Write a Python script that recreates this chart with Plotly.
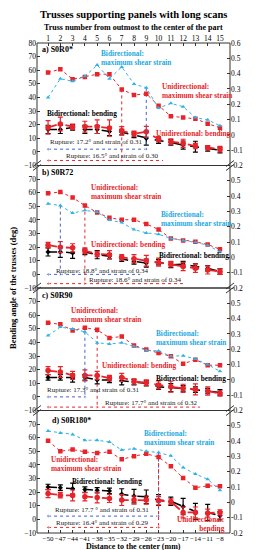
import plotly.graph_objects as go

# ---------------- data ----------------
distance_mm = [-50, -47, -44, -41, -38, -35, -32, -29, -26, -23, -20, -17, -14, -11, -8]
truss_number = list(range(1, 16))
left_tick_vals = [-10, 0, 10, 20, 30, 40, 50, 60, 70, 80]
right_tick_vals = [-0.2, -0.1, 0, 0.1, 0.2, 0.3, 0.4, 0.5, 0.6]
right_tick_text = ["-0.2", "-0.1", "0", "0.1", "0.2", "0.3", "0.4", "0.5", "0.6"]

# a) S0R0*
a_uni_strain = [0.407, 0.429, 0.364, 0.378, 0.396, 0.396, 0.297, 0.261, 0.268, 0.191, 0.122, 0.113, 0.105, 0.073, 0.047]
a_bi_strain = [0.244, 0.367, 0.350, 0.383, 0.456, 0.367, 0.444, 0.333, 0.307, 0.175, 0.206, 0.184, 0.113, 0.098, 0.060]
a_uni_bend = [18.0, 20.5, 18.5, 18.5, 18.5, 17.5, 15.5, 13.3, 14.8, 9.3, 7.5, 6.3, 4.3, 3.0, 2.0]
a_uni_err = [5, 5, 2, 4, 5, 6, 3, 2, 4, 2, 2, 3, 2, 1.5, 2]
a_bi_bend = [16.5, 16.5, 18.0, 16.5, 16.5, 15.0, 14.5, 12.5, 10.0, 8.3, 7.0, 5.0, 3.8, 2.5, 1.3]
a_bi_err = [3, 3, 2, 3, 3, 3, 2, 2, 5, 2, 2, 3, 4, 2, 2]

# b) S0R72
b_uni_strain = [0.418, 0.427, 0.391, 0.338, 0.293, 0.258, 0.246, 0.246, 0.218, 0.182, 0.124, 0.111, 0.102, 0.084, 0.053]
b_bi_strain = [0.351, 0.338, 0.289, 0.307, 0.296, 0.244, 0.227, 0.182, 0.160, 0.151, 0.124, 0.111, 0.098, 0.080, 0.036]
b_uni_bend = [21.5, 20.0, 19.5, 17.5, 15.0, 14.5, 12.5, 11.5, 10.0, 9.0, 7.5, 5.8, 4.5, 3.3, 2.0]
b_uni_err = [2, 4, 3, 2, 2, 3, 2, 3, 4, 3, 2, 3, 3, 3, 2]
b_bi_bend = [16.5, 16.5, 15.8, 16.5, 14.5, 13.3, 11.5, 9.5, 8.3, 9.0, 7.0, 7.5, 5.8, 4.5, 2.0]
b_bi_err = [3, 4, 4, 2, 3, 2, 2, 2, 3, 2, 2, 2, 2, 2, 2]

# c) S0R90
c_uni_strain = [0.373, 0.363, 0.323, 0.340, 0.327, 0.274, 0.283, 0.225, 0.198, 0.176, 0.154, 0.105, 0.132, 0.096, 0.096]
c_bi_strain = [0.289, 0.345, 0.332, 0.314, 0.243, 0.234, 0.243, 0.220, 0.194, 0.189, 0.154, 0.158, 0.136, 0.100, 0.056]
c_uni_bend = [19.3, 18.3, 15.8, 15.8, 15.8, 13.8, 14.3, 11.3, 10.5, 8.8, 7.5, 6.3, 5.5, 4.3, 2.5]
c_uni_err = [3, 4, 3, 4, 3, 2, 3, 2, 2, 3, 4, 3, 4, 3, 2]
c_bi_bend = [14.3, 14.3, 13.8, 14.3, 12.5, 12.5, 11.8, 10.8, 10.0, 7.5, 6.8, 6.3, 5.3, 4.3, 3.3]
c_bi_err = [2, 2, 3, 2, 3, 2, 3, 2, 2, 2, 3, 2, 2, 2, 2]

# d) S0R180*
d_uni_strain = [0.403, 0.334, 0.345, 0.330, 0.322, 0.330, 0.281, 0.302, 0.317, 0.296, 0.236, 0.160, 0.096, 0.108, 0.105]
d_bi_strain = [0.466, 0.453, 0.444, 0.406, 0.406, 0.394, 0.342, 0.351, 0.334, 0.325, 0.304, 0.228, 0.185, 0.151, 0.079]
d_uni_bend = [19.0, 17.8, 17.6, 16.6, 16.1, 15.4, 14.2, 14.2, 14.2, 13.7, 13.0, 5.1, 5.1, 4.6, 5.1]
d_uni_err = [3, 2, 4, 3, 4, 3, 4, 3, 3, 3, 2, 4, 4, 3, 2]
d_bi_bend = [23.8, 23.3, 22.6, 21.9, 21.4, 20.9, 18.5, 17.1, 16.6, 14.2, 13.3, 9.4, 5.8, 5.1, 2.7]
d_bi_err = [2, 2, 4, 2, 2, 2, 4, 5, 5, 4, 3, 6, 6, 6, 3]

# rupture truss index (0-based) and labels
a_rupture = {"bi": 8, "uni": 6, "bi_text": "Rupture: 17.2° and strain of 0.31", "uni_text": "Rupture: 16.5° and strain of 0.30"}
b_rupture = {"bi": 1, "uni": 3, "bi_text": "Rupture: 18.8° and strain of 0.34", "uni_text": "Rupture: 18.6° and strain of 0.34"}
c_rupture = {"bi": 3, "uni": 4, "bi_text": "Rupture: 17.3° and strain of 0.31", "uni_text": "Rupture: 17.7° and strain of 0.32"}
d_rupture = {"bi": 9, "uni": 9, "bi_text": "Rupture: 17.7 ° and strain of 0.31", "uni_text": "Rupture: 16.4° and strain of 0.29"}

# ---------------- styles ----------------
RED = "#e8232a"
CYAN = "#2fb2e6"
CYAN_TXT = "#1ca9e2"
BLUE = "#3f63c8"
FONT = "Liberation Serif"
LEFT_RANGE = [-10, 80]
RIGHT_RANGE = [-0.2, 0.6]


def to_deg(s):
    return LEFT_RANGE[0] + (s - RIGHT_RANGE[0]) * (LEFT_RANGE[1] - LEFT_RANGE[0]) / (RIGHT_RANGE[1] - RIGHT_RANGE[0])


panels = [
    dict(name="a) S0R0*", yl="y4", yr="y8", uni_s=a_uni_strain, bi_s=a_bi_strain, uni_b=a_uni_bend, uni_e=a_uni_err,
         bi_b=a_bi_bend, bi_e=a_bi_err, rup=a_rupture,
         lab=(-52, 75),
         texts=[("<b>Bidirectional:<br>maximum shear strain</b>", CYAN_TXT, -37.5, 69, "left"),
                ("<b>Unidirectional:<br>maximum shear strain</b>", RED, -22.6, 45, "left"),
                ("<b>Bidirectional: bending</b>", "black", -50.7, 28, "left"),
                ("<b>Unidirectional: bending</b>", RED, -24.1, 13.8, "left")],
         bi_arrow=(2, -38.2, 7.5, None), uni_arrow=(-6.3, -34.25, -3, -21.9)),
    dict(name="b) S0R72", yl="y3", yr="y7", uni_s=b_uni_strain, bi_s=b_bi_strain, uni_b=b_uni_bend, uni_e=b_uni_err,
         bi_b=b_bi_bend, bi_e=b_bi_err, rup=b_rupture,
         lab=(-52, 75),
         texts=[("<b>Unidirectional:<br>maximum shear strain</b>", RED, -40, 60.5, "left"),
                ("<b>Bidirectional:<br>maximum shear strain</b>", CYAN_TXT, -22.9, 40.5, "left"),
                ("<b>Unidirectional: bending</b>", RED, -40, 22, "left"),
                ("<b>Bidirectional: bending</b>", "black", -23.5, 14, "left")],
         bi_arrow=(0, -36.6, 2.5, -27.5), uni_arrow=(-6.8, -28.6, -4.3, -16.3)),
    dict(name="c) S0R90", yl="y2", yr="y6", uni_s=c_uni_strain, bi_s=c_bi_strain, uni_b=c_uni_bend, uni_e=c_uni_err,
         bi_b=c_bi_bend, bi_e=c_bi_err, rup=c_rupture,
         lab=(-52, 74.3),
         texts=[("<b>Unidirectional:<br>maximum shear strain</b>", RED, -44.9, 60.4, "left"),
                ("<b>Bidirectional:<br>maximum shear strain</b>", CYAN_TXT, -24.1, 43.1, "left"),
                ("<b>Unidirectional: bending</b>", RED, -37.4, 23.25, "left"),
                ("<b>Bidirectional: bending</b>", "black", -24.1, 13.25, "left")],
         bi_arrow=(0, -38.9, 5, None), uni_arrow=(-7.5, -24.7, -4.3, -12.9)),
    dict(name="d) S0R180*", yl="y", yr="y5", uni_s=d_uni_strain, bi_s=d_bi_strain, uni_b=d_uni_bend, uni_e=d_uni_err,
         bi_b=d_bi_bend, bi_e=d_bi_err, rup=d_rupture,
         lab=(-49.6, 72.3),
         texts=[("<b>Bidirectional:<br>maximum shear strain</b>", CYAN_TXT, -27, 60, "left"),
                ("<b>Unidirectional:<br>maximum shear strain</b>", RED, -49.75, 40.6, "left"),
                ("<b>Bidirectional: bending</b>", "black", -44.7, 27.7, "left"),
                ("<b>Unidirectional:<br>bending</b>", RED, -6.3, -3.5, "right")],
         bi_arrow=(2.4, -36.8, 7, None), uni_arrow=(-5.9, -36.6, -2.3, None)),
]

fig = go.Figure()
annotations = []

for p in panels:
    yl, yr = p["yl"], p["yr"]
    # bending lines
    fig.add_trace(go.Scatter(x=distance_mm, y=p["bi_b"], xaxis="x", yaxis=yl, mode="lines+markers",
                             line=dict(color="black", dash="dash", width=1.5),
                             marker=dict(symbol="diamond", size=4, color="black"),
                             error_y=dict(type="data", array=p["bi_e"], color="black", thickness=1.2, width=2.5),
                             showlegend=False, hoverinfo="skip"))
    fig.add_trace(go.Scatter(x=distance_mm, y=p["uni_b"], xaxis="x", yaxis=yl, mode="lines+markers",
                             line=dict(color=RED, dash="dash", width=1.8),
                             marker=dict(symbol="circle", size=5.5, color=RED),
                             error_y=dict(type="data", array=p["uni_e"], color=RED, thickness=1.2, width=2.5),
                             showlegend=False, hoverinfo="skip"))
    # rupture lines
    for key, strain, col, arrow, txt in (("bi", p["bi_s"], BLUE, p["bi_arrow"], p["rup"]["bi_text"]),
                                         ("uni", p["uni_s"], RED, p["uni_arrow"], p["rup"]["uni_text"])):
        i = p["rup"][key]
        xr = distance_mm[i]
        ay, tx, ty, xend = arrow
        fig.add_trace(go.Scatter(x=[xr, xr], y=[to_deg(strain[i]), ay], xaxis="x", yaxis=yl, mode="lines",
                                 line=dict(color=col, dash="dot", width=1), showlegend=False, hoverinfo="skip"))
        xs = [distance_mm[0], xr]
        syms = ["triangle-left", "triangle-right"]
        sizes = [4, 4]
        if xend is not None and xend > xr:
            xs.append(xend)
            syms.append("circle")
            sizes.append(0)
        fig.add_trace(go.Scatter(x=xs, y=[ay] * len(xs), xaxis="x", yaxis=yl, mode="lines+markers",
                                 line=dict(color=col, dash="dot", width=1),
                                 marker=dict(symbol=syms, size=sizes, color=col),
                                 showlegend=False, hoverinfo="skip"))
        annotations.append(dict(x=tx, y=ty, xref="x", yref=yl, text=txt, showarrow=False,
                                font=dict(family=FONT, size=7, color="#222"), xanchor="center", yanchor="middle"))
    # strain lines
    fig.add_trace(go.Scatter(x=distance_mm, y=p["uni_s"], xaxis="x", yaxis=yr, mode="lines+markers",
                             line=dict(color=RED, dash="dot", width=1),
                             marker=dict(symbol="square", size=4.5, color=RED),
                             showlegend=False, hoverinfo="skip"))
    fig.add_trace(go.Scatter(x=distance_mm, y=p["bi_s"], xaxis="x", yaxis=yr, mode="lines+markers",
                             line=dict(color=CYAN, dash="dot", width=1),
                             marker=dict(symbol="triangle-up", size=4, color=CYAN),
                             showlegend=False, hoverinfo="skip"))
    # labels
    annotations.append(dict(x=p["lab"][0], y=p["lab"][1], xref="x", yref=yl, text="<b>" + p["name"] + "</b>",
                            showarrow=False, font=dict(family=FONT, size=8, color="black"),
                            xanchor="left", yanchor="middle"))
    for t, col, x, y, al in p["texts"]:
        annotations.append(dict(x=x, y=y, xref="x", yref=yl, text=t, showarrow=False, align=al,
                                font=dict(family=FONT, size=7.3, color=col), xanchor=al, yanchor="middle"))

# top axis anchor trace
x_range = [-52.7, -5.55]
slope = (distance_mm[-1] - distance_mm[0]) / (truss_number[-1] - truss_number[0])
x2_range = [truss_number[0] + (v - distance_mm[0]) / slope for v in x_range]
fig.add_trace(go.Scatter(x=truss_number, y=[None] * len(truss_number), xaxis="x2", yaxis="y4",
                         mode="markers", showlegend=False, hoverinfo="skip"))

# titles
annotations += [
    dict(x=0.5, y=1.0575, xref="paper", yref="paper", text="<b>Trusses supporting panels with long scans</b>",
         showarrow=False, font=dict(family=FONT, size=10.5, color="black"), xanchor="center", yanchor="middle"),
    dict(x=0.5, y=1.032, xref="paper", yref="paper", text="<b>Truss number from outmost to the center of the part</b>",
         showarrow=False, font=dict(family=FONT, size=8, color="black"), xanchor="center", yanchor="middle"),
    dict(x=0.5, y=-0.028, xref="paper", yref="paper", text="<b>Distance to the center (mm)</b>",
         showarrow=False, font=dict(family=FONT, size=8, color="black"), xanchor="center", yanchor="middle",
         borderpad=0),
    dict(x=-0.125, y=0.5, xref="paper", yref="paper", text="<b>Bending angle of the trusses (deg)</b>",
         showarrow=False, textangle=-90, font=dict(family=FONT, size=8.5, color="black"),
         xanchor="center", yanchor="middle"),
    dict(x=1.11, y=0.5, xref="paper", yref="paper", text="<b>Maximum shear strain</b>",
         showarrow=False, textangle=-90, font=dict(family=FONT, size=8, color="black"),
         xanchor="center", yanchor="middle", borderpad=0),
]

tickfont = dict(family=FONT, size=7.5, color="black")
common_y = dict(showgrid=False, zeroline=False, ticks="inside", ticklen=3, tickcolor="#333",
                tickfont=tickfont, showline=False, fixedrange=True)

domains = {"y": [0, 0.25], "y2": [0.25, 0.5], "y3": [0.5, 0.75], "y4": [0.75, 1.0]}
layout_axes = {}
right_map = {"y": "y5", "y2": "y6", "y3": "y7", "y4": "y8"}
for yl, dom in domains.items():
    key = "yaxis" if yl == "y" else "yaxis" + yl[1:]
    lt = left_tick_vals if yl == "y4" else left_tick_vals[:-1]
    layout_axes[key] = dict(domain=dom, range=LEFT_RANGE, anchor="x", tickvals=lt, **common_y)
    yr = right_map[yl]
    rt = right_tick_vals if yl == "y4" else right_tick_vals[:-1]
    rtt = right_tick_text if yl == "y4" else right_tick_text[:-1]
    layout_axes["yaxis" + yr[1:]] = dict(overlaying=yl, side="right", anchor="x", range=RIGHT_RANGE,
                                         tickvals=rt, ticktext=rtt, **common_y)

shapes = []
for yl in domains:
    shapes.append(dict(type="rect", xref="x domain", yref=yl + " domain", x0=0, x1=1, y0=0, y1=1,
                       line=dict(color="#333", width=1), layer="above"))
# axis break marks
px_x = 1 / 193
px_y = 1 / 490
for yb in (0.25, 0.5, 0.75):
    for xb in (0, 1):
        for off in (-2, 2):
            shapes.append(dict(type="line", xref="paper", yref="paper",
                               x0=xb - 4 * px_x, x1=xb + 4 * px_x,
                               y0=yb + (off - 3) * px_y, y1=yb + (off + 3) * px_y,
                               line=dict(color="#333", width=1)))

fig.update_layout(
    width=255, height=550,
    margin=dict(l=29, r=33, t=35, b=25),
    paper_bgcolor="white", plot_bgcolor="white",
    font=dict(family=FONT, color="black"),
    showlegend=False,
    xaxis=dict(domain=[0, 1], anchor="y", range=x_range, tickvals=distance_mm, tickangle=0,
               ticks="inside", ticklen=3, tickcolor="#333", tickfont=dict(family=FONT, size=7, color="black"),
               showgrid=False, zeroline=False, showline=False, fixedrange=True),
    xaxis2=dict(overlaying="x", side="top", anchor="y4", range=x2_range, tickvals=truss_number, tickangle=0,
                ticks="inside", ticklen=3, tickcolor="#333", tickfont=tickfont,
                showgrid=False, zeroline=False, showline=False, fixedrange=True),
    annotations=annotations,
    shapes=shapes,
    **layout_axes,
)

fig.write_html("out.html", config={"displayModeBar": False})
